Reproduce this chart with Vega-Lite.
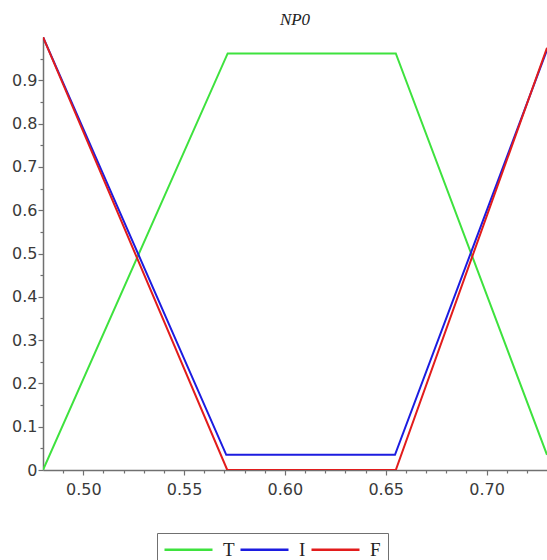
{
  "$schema": "https://vega.github.io/schema/vega-lite/v6.json",
  "width": 504,
  "height": 433,
  "autosize": {"type": "none"},
  "padding": {"left": 43, "top": 37, "right": 0, "bottom": 90},
  "background": "white",
  "title": {
    "text": "NP0",
    "font": "Liberation Serif",
    "fontStyle": "italic",
    "fontWeight": "normal",
    "fontSize": 17,
    "color": "#222222",
    "offset": 8
  },
  "config": {
    "view": {"stroke": null},
    "axis": {
      "labelFont": "DejaVu Sans",
      "labelFontSize": 16,
      "labelColor": "#3a3a3a",
      "domainColor": "#707070",
      "domainWidth": 1.5,
      "tickColor": "#707070",
      "tickWidth": 1.2,
      "grid": false,
      "title": null
    }
  },
  "data": {
    "values": [
      {"series": "T", "x": 0.48, "y": 0},
      {"series": "T", "x": 0.5716, "y": 0.962},
      {"series": "T", "x": 0.655, "y": 0.962},
      {"series": "T", "x": 0.73, "y": 0.035},
      {"series": "I", "x": 0.48, "y": 1},
      {"series": "I", "x": 0.5709, "y": 0.035},
      {"series": "I", "x": 0.6546, "y": 0.035},
      {"series": "I", "x": 0.73, "y": 0.97},
      {"series": "F", "x": 0.48, "y": 1},
      {"series": "F", "x": 0.5714, "y": 0},
      {"series": "F", "x": 0.655, "y": 0},
      {"series": "F", "x": 0.73, "y": 0.975}
    ]
  },
  "resolve": {"axis": {"x": "independent", "y": "independent"}},
  "layer": [
    {
      "mark": {"type": "line", "strokeOpacity": 0},
      "encoding": {
        "x": {
          "field": "x", "type": "quantitative",
          "scale": {"domain": [0.48, 0.73], "nice": false, "zero": false},
          "axis": {
            "orient": "bottom", "labels": false, "domain": false,
            "values": [0.49, 0.51, 0.52, 0.53, 0.54, 0.56, 0.57, 0.58, 0.59, 0.61, 0.62, 0.63, 0.64, 0.66, 0.67, 0.68, 0.69, 0.71, 0.72],
            "tickSize": 3
          }
        },
        "y": {
          "field": "y", "type": "quantitative",
          "scale": {"domain": [0, 1], "nice": false},
          "axis": {
            "orient": "left", "labels": false, "domain": false,
            "values": [0.05, 0.15, 0.25, 0.35, 0.45, 0.55, 0.65, 0.75, 0.85, 0.95],
            "tickSize": 3
          }
        },
        "detail": {"field": "series"}
      }
    },
    {
      "mark": {"type": "line", "strokeWidth": 2, "clip": true},
      "encoding": {
        "x": {
          "field": "x", "type": "quantitative",
          "scale": {"domain": [0.48, 0.73], "nice": false, "zero": false},
          "axis": {
            "orient": "bottom",
            "values": [0.5, 0.55, 0.6, 0.65, 0.7],
            "format": ".2f",
            "tickSize": 5,
            "labelPadding": 6
          }
        },
        "y": {
          "field": "y", "type": "quantitative",
          "scale": {"domain": [0, 1], "nice": false},
          "axis": {
            "orient": "left",
            "values": [0, 0.1, 0.2, 0.3, 0.4, 0.5, 0.6, 0.7, 0.8, 0.9],
            "labelExpr": "datum.value === 0 ? '0' : format(datum.value, '.1f')",
            "tickSize": 5,
            "labelPadding": 1
          }
        },
        "color": {
          "field": "series", "type": "nominal",
          "scale": {"domain": ["T", "I", "F"], "range": ["#3ee23e", "#1c1ce0", "#e21c1c"]},
          "legend": {
            "title": null,
            "orient": "none",
            "legendX": 114,
            "legendY": 496,
            "direction": "horizontal",
            "columns": 3,
            "symbolType": "M-4.8,0L4.8,0",
            "symbolSize": 100,
            "symbolOffset": 15,
            "symbolStrokeWidth": 2.5,
            "labelFont": "Liberation Serif",
            "labelFontSize": 19,
            "labelColor": "#222222",
            "labelOffset": 25,
            "columnPadding": 0,
            "padding": 7,
            "strokeColor": "#707070",
            "fillColor": "white"
          }
        }
      }
    }
  ]
}
